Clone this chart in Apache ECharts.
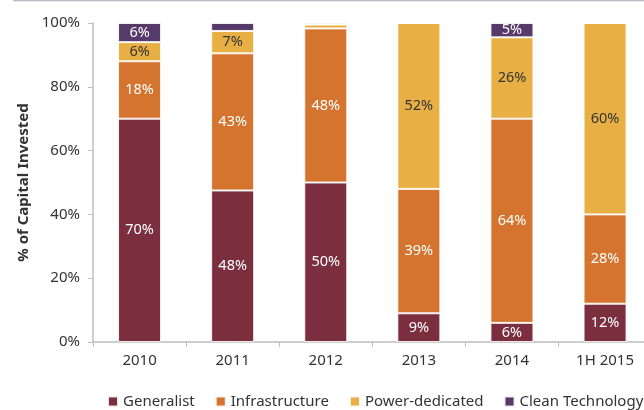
<!DOCTYPE html>
<html>
<head>
<meta charset="utf-8">
<script src="https://cdn.jsdelivr.net/npm/echarts@6/dist/echarts.min.js"></script>
<style>
  html, body { margin: 0; padding: 0; background: #fff; }
  #chart { width: 644px; height: 410px; }
</style>
</head>
<body>
<div id="chart"></div>
<script>
const years = ["2010", "2011", "2012", "2013", "2014", "1H 2015"];
const generalist = [70, 47.5, 50, 9, 6, 12];
const infrastructure = [18, 43, 48.3, 39, 64, 28];
const powerDedicated = [6, 7, 1.2, 52, 25.5, 60];
const cleanTech = [6, 2.5, 0.5, 0, 4.5, 0];
const yTicks = [0, 20, 40, 60, 80, 100];

const font = "Noto Sans";
const axisGray = "#bfbfbf";

function makeSeries(name, data, color, labelColor) {
  return {
    name: name,
    type: "bar",
    stack: "total",
    barWidth: 43,
    data: data,
    itemStyle: { color: color, borderColor: "rgba(255,255,255,0.85)", borderWidth: 1 },
    label: {
      show: true,
      position: "inside",
      color: labelColor,
      fontFamily: font,
      fontSize: 14.5,
      formatter: (p) => (p.value >= 4 ? Math.round(p.value) + "%" : ""),
    },
  };
}

const chart = echarts.init(document.getElementById("chart"));

chart.setOption({
  animation: false,
  textStyle: { fontFamily: font },
  grid: { left: 93, width: 558.6, top: 23, bottom: 68, outerBoundsMode: "none" },
  graphic: [
    {
      type: "line",
      shape: { x1: 13, y1: 0.5, x2: 644, y2: 0.5 },
      style: { stroke: "#b8bcc4", lineWidth: 1.5 },
    },
  ],
  legend: {
    left: 107,
    top: 394,
    width: 537,
    padding: 0,
    itemWidth: 10,
    itemHeight: 10,
    itemGap: 20,
    icon: "rect",
    textStyle: { fontFamily: font, fontSize: 15, color: "#333" },
    data: ["Generalist", "Infrastructure", "Power-dedicated", "Clean Technology"],
  },
  xAxis: {
    type: "category",
    data: years,
    axisLine: { lineStyle: { color: axisGray, width: 1.5 } },
    axisTick: { show: true, length: 5, lineStyle: { color: axisGray } },
    axisLabel: { color: "#333", fontSize: 15, fontFamily: font, margin: 11 },
  },
  yAxis: {
    type: "value",
    min: yTicks[0],
    max: yTicks[yTicks.length - 1],
    interval: 20,
    name: "% of Capital Invested",
    nameLocation: "middle",
    nameGap: 62,
    nameTextStyle: { fontFamily: font, fontSize: 15, fontWeight: "bold", color: "#333" },
    axisLine: { show: true, lineStyle: { color: axisGray, width: 1.5 } },
    axisTick: { show: true, length: 5, lineStyle: { color: axisGray } },
    splitLine: { show: false },
    axisLabel: { color: "#333", fontSize: 15, fontFamily: font, margin: 13, formatter: "{value}%" },
  },
  series: [
    makeSeries("Generalist", generalist, "#7b2f3e", "#fff"),
    makeSeries("Infrastructure", infrastructure, "#d4742f", "#fff"),
    makeSeries("Power-dedicated", powerDedicated, "#e8b044", "#333"),
    makeSeries("Clean Technology", cleanTech, "#583a6a", "#fff"),
  ],
});
</script>
</body>
</html>
